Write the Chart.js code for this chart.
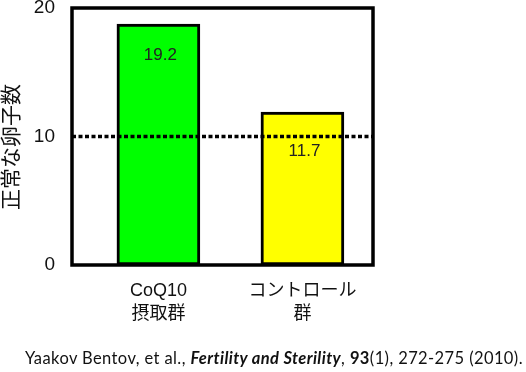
<!DOCTYPE html>
<html>
<head>
<meta charset="utf-8">
<script src="https://cdn.jsdelivr.net/npm/chart.js@4"></script>
<style>
  body { margin: 0; background: #fff; }
  #wrap { position: relative; width: 526px; height: 372px; }
  #cite { position: absolute; left: 25px; top: 348px; font-family: Lato, "Open Sans", sans-serif; font-size: 16.5px; letter-spacing: 0.4px; color: #111; white-space: nowrap; }
</style>
</head>
<body>
<div id="wrap">
  <canvas id="barChart" width="526" height="372"></canvas>
  <div id="cite">Yaakov Bentov, et al., <b><i>Fertility and Sterility</i></b>, <b>93</b>(1), 272-275 (2010).</div>
</div>
<script>
const categories = [['CoQ10', '摂取群'], ['コントロール', '群']];
const values = [18.75, 11.9];          // bar heights as drawn
const valueLabels = ['19.2', '11.7'];   // numbers printed in the bars
const barColors = ['#00ff00', '#ffff00'];
const yTicks = [0, 10, 20];
const refLine = 10;

const fontFam = '"Liberation Sans", Arial, "Noto Sans CJK JP", sans-serif';

const decorations = {
  id: 'decorations',
  afterDatasetsDraw(chart) {
    const ctx = chart.ctx;
    const area = chart.chartArea;
    const y = chart.scales.y;
    const ly = y.getPixelForValue(refLine);
    // dotted reference line
    ctx.save();
    ctx.strokeStyle = '#000';
    ctx.lineWidth = 3.5;
    ctx.setLineDash([4, 2.5]);
    ctx.beginPath();
    ctx.moveTo(area.left, ly);
    ctx.lineTo(area.right, ly);
    ctx.stroke();
    ctx.restore();
    // value labels
    const meta = chart.getDatasetMeta(0);
    ctx.save();
    ctx.font = '17px ' + fontFam;
    ctx.fillStyle = '#222';
    ctx.textAlign = 'center';
    ctx.textBaseline = 'middle';
    meta.data.forEach((bar, i) => {
      let ty = bar.y + 31;
      if (Math.abs(ty - ly) < 13) ty = ly + 15;
      ctx.fillText(valueLabels[i], bar.x + 2, ty);
    });
    ctx.restore();
  },
  afterDraw(chart) {
    const ctx = chart.ctx;
    const a = chart.chartArea;
    ctx.save();
    ctx.strokeStyle = '#000';
    ctx.lineWidth = 3.5;
    ctx.strokeRect(a.left, a.top, a.right - a.left, a.bottom - a.top);
    ctx.restore();
  }
};

const noPad = s => { s.paddingTop = 0; s.paddingBottom = 0; s.paddingLeft = 0; s.paddingRight = 0; };

const ctx = document.getElementById('barChart');
new Chart(ctx, {
  type: 'bar',
  data: {
    datasets: [{
      data: values.map((v, i) => ({ x: i, y: v })),
      backgroundColor: barColors,
      borderColor: '#000',
      borderWidth: 3,
      borderSkipped: false,
      barThickness: 83
    }]
  },
  options: {
    responsive: false,
    animation: false,
    layout: { padding: { top: 8, right: 153, left: 0, bottom: 0 } },
    plugins: { legend: { display: false }, tooltip: { enabled: false } },
    scales: {
      x: {
        type: 'linear',
        offset: false,
        min: -0.6,
        max: 1.49,
        grid: { display: false, drawTicks: false, offset: false },
        border: { display: false },
        afterFit: s => { s.height = 107; noPad(s); },
        ticks: {
          stepSize: 1,
          includeBounds: false,
          padding: 14,
          color: '#111',
          font: { size: 18, family: fontFam, lineHeight: 1.3 },
          maxRotation: 0,
          callback: v => categories[v] || ''
        }
      },
      y: {
        min: 0,
        max: 20,
        grid: { display: false, drawTicks: false },
        border: { display: false },
        afterFit: s => { s.width = 72; noPad(s); },
        afterBuildTicks: s => { s.ticks = yTicks.map(v => ({ value: v })); },
        ticks: {
          padding: 17,
          color: '#111',
          font: { size: 19, family: fontFam }
        },
        title: {
          display: true,
          text: '正常な卵子数　',
          color: '#111',
          padding: { top: 0, bottom: 0 },
          font: { size: 21, family: fontFam }
        }
      }
    }
  },
  plugins: [decorations]
});
</script>
</body>
</html>
